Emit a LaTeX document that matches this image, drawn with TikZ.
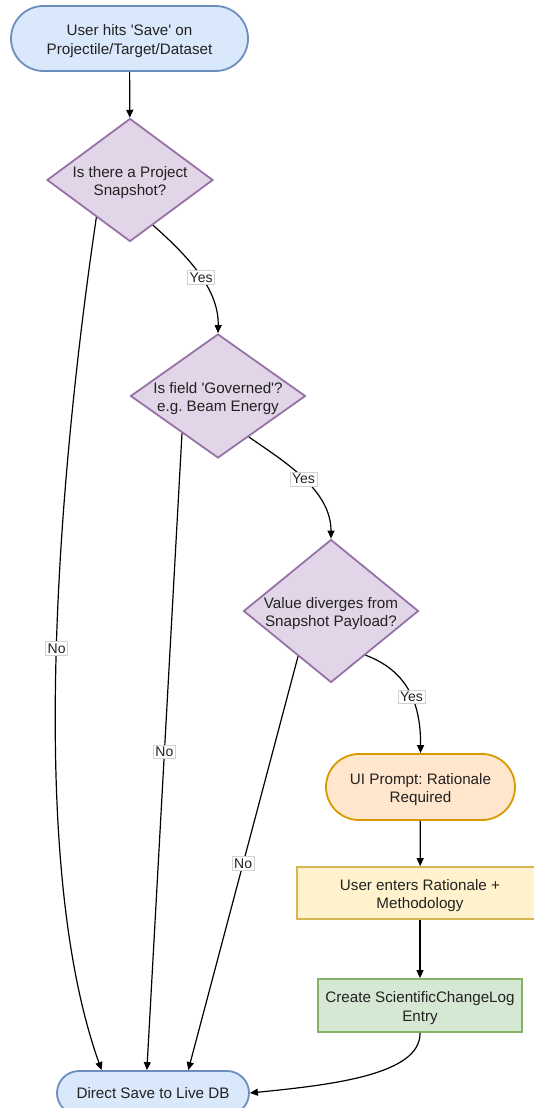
\documentclass[tikz,border=0pt]{standalone}
\usepackage{fontspec}
\setmainfont{Liberation Sans}[Ligatures=TeXOff]
\frenchspacing
\usetikzlibrary{shapes.geometric,arrows.meta}
\definecolor{bluefill}{HTML}{DAE8FC}\definecolor{blueline}{HTML}{6C8EBF}
\definecolor{purpfill}{HTML}{E1D5E7}\definecolor{purpline}{HTML}{9673A6}
\definecolor{orfill}{HTML}{FFE6CC}\definecolor{orline}{HTML}{D79B00}
\definecolor{yelfill}{HTML}{FFF2CC}\definecolor{yelline}{HTML}{D6B656}
\definecolor{grnfill}{HTML}{D5E8D4}\definecolor{grnline}{HTML}{82B366}
\definecolor{txt}{HTML}{222222}
\newcommand\twolines[1]{\raisebox{-2.8pt}[\dimexpr\height-3pt\relax][\dimexpr\depth-3pt\relax]{\begin{tabular}{@{}c@{}}#1\end{tabular}}}
\tikzset{
  base/.style={font=\fontsize{15.2}{18.2}\selectfont\frenchspacing, text=txt, align=center, inner sep=0pt, line width=1.8pt},
  stadium/.style={base, rectangle, rounded corners=#1},
  boxnode/.style={base, rectangle},
  decision/.style={base, diamond, draw=purpline, fill=purpfill},
  conn/.style={line width=1.2pt, draw=black, -{Triangle[length=8pt,width=7pt]}},
  lbl/.style={font=\fontsize{14}{16}\selectfont, text=txt, fill=white, draw=gray!35, line width=0.6pt, inner xsep=2pt, inner ysep=2pt},
}
\begin{document}
\begin{tikzpicture}[x=1pt,y=-1pt]
\useasboundingbox (0,0) rectangle (533,1108);
% nodes
\node[stadium=32.5pt, draw=blueline, fill=bluefill, minimum width=237pt, minimum height=65pt] (start) at (129.5,38.5) {\twolines{User hits 'Save' on\\Projectile/Target/Dataset}};
\node[decision, aspect=1.35, minimum width=166pt, minimum height=123pt] (d1) at (130,180) {\twolines{Is there a Project\\Snapshot?}};
\node[decision, aspect=1.41, minimum width=175pt, minimum height=124pt] (d2) at (218,396) {\twolines{Is field 'Governed'?\\e.g. Beam Energy}};
\node[decision, aspect=1.22, minimum width=175pt, minimum height=143pt] (d3) at (331,611) {\twolines{Value diverges from\\Snapshot Payload?}};
\node[stadium=33pt, draw=orline, fill=orfill, minimum width=189pt, minimum height=66pt] (ui) at (420.5,787) {\twolines{UI Prompt: Rationale\\Required}};
\node[boxnode, draw=yelline, fill=yelfill, minimum width=246pt, minimum height=52pt] (enter) at (420,893) {\twolines{User enters Rationale +\\Methodology}};
\node[boxnode, draw=grnline, fill=grnfill, minimum width=204pt, minimum height=53pt] (log) at (420,1005.5) {\twolines{Create ScientificChangeLog\\Entry}};
\node[stadium=22pt, draw=blueline, fill=bluefill, minimum width=192pt, minimum height=44pt] (live) at (153,1093) {Direct Save to Live DB};
% connectors
\draw[conn] (start) -- (d1);
\draw[conn] (d1.-63) .. controls (190,258) and (219,290) .. node[lbl, pos=0.52] {Yes} (d2.north);
\draw[conn] (d2.-53) .. controls (285,462) and (331,490) .. node[lbl, pos=0.5] {Yes} (d3.north);
\draw[conn] (d3.-52) .. controls (405,670) and (421,700) .. node[lbl, pos=0.57] {Yes} (ui.north);
\draw[conn] (ui) -- (enter);
\draw[conn] (enter) -- (log);
\draw[conn] (log.south) .. controls (421,1075) and (330,1085) .. (live.east);
\draw[conn] (d1.-132) .. controls (62,450) and (23,850) .. node[lbl, pos=0.5] {No} (live.156);
\draw[conn] (d2.-134) -- node[lbl, pos=0.5] {No} (live.105);
\draw[conn] (d3.-126) -- node[lbl, pos=0.5] {No} (live.33);
\end{tikzpicture}
\end{document}
